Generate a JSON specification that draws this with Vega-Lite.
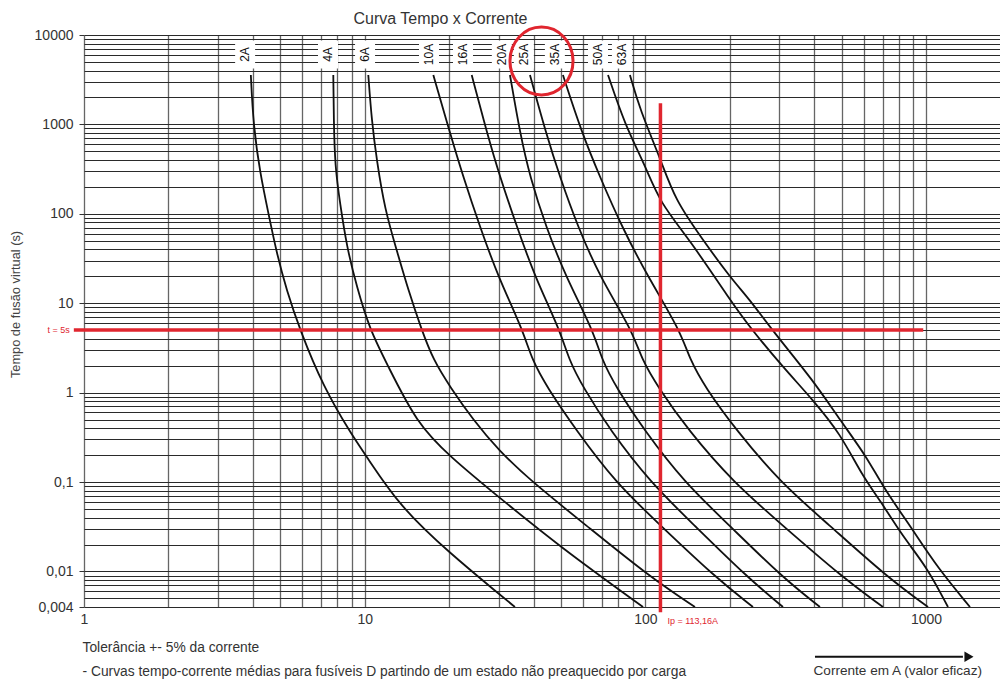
{
  "$schema": "https://vega.github.io/schema/vega-lite/v6.json",
  "width": 916,
  "height": 572,
  "autosize": {"type": "none"},
  "padding": {"left": 84, "top": 35, "right": 0, "bottom": 72},
  "background": "white",
  "config": {"view": {"stroke": null}, "font": "Liberation Sans"},
  "datasets": {
    "curves": [
      {"fuse": "2A", "I": 3.93, "t": 3570}, {"fuse": "2A", "I": 4.01, "t": 985}, {"fuse": "2A", "I": 4.24, "t": 284}, {"fuse": "2A", "I": 4.54, "t": 101}, {"fuse": "2A", "I": 4.86, "t": 36.2}, {"fuse": "2A", "I": 5.27, "t": 14.0}, {"fuse": "2A", "I": 5.88, "t": 5.01}, {"fuse": "2A", "I": 7.12, "t": 1.16}, {"fuse": "2A", "I": 8.99, "t": 0.336}, {"fuse": "2A", "I": 10.17, "t": 0.192}, {"fuse": "2A", "I": 13.36, "t": 0.0529}, {"fuse": "2A", "I": 20.14, "t": 0.0159}, {"fuse": "2A", "I": 29.92, "t": 0.00569}, {"fuse": "2A", "I": 34.3, "t": 0.004},
      {"fuse": "4A", "I": 7.73, "t": 3570}, {"fuse": "4A", "I": 7.76, "t": 1120}, {"fuse": "4A", "I": 7.84, "t": 336}, {"fuse": "4A", "I": 8.17, "t": 131}, {"fuse": "4A", "I": 8.63, "t": 42.9}, {"fuse": "4A", "I": 9.37, "t": 15.3}, {"fuse": "4A", "I": 10.44, "t": 5.01}, {"fuse": "4A", "I": 11.98, "t": 2.13}, {"fuse": "4A", "I": 15.32, "t": 0.453}, {"fuse": "4A", "I": 20.14, "t": 0.192}, {"fuse": "4A", "I": 29.92, "t": 0.0685}, {"fuse": "4A", "I": 49.6, "t": 0.0189}, {"fuse": "4A", "I": 98.1, "t": 0.004},
      {"fuse": "6A", "I": 10.30, "t": 3570}, {"fuse": "6A", "I": 10.59, "t": 1120}, {"fuse": "6A", "I": 11.03, "t": 400}, {"fuse": "6A", "I": 11.81, "t": 110}, {"fuse": "6A", "I": 13.0, "t": 39.4}, {"fuse": "6A", "I": 14.30, "t": 14.0}, {"fuse": "6A", "I": 15.96, "t": 5.01}, {"fuse": "6A", "I": 17.56, "t": 2.32}, {"fuse": "6A", "I": 20.14, "t": 1.16}, {"fuse": "6A", "I": 24.37, "t": 0.494}, {"fuse": "6A", "I": 29.92, "t": 0.228}, {"fuse": "6A", "I": 39.88, "t": 0.0975}, {"fuse": "6A", "I": 60.1, "t": 0.0348}, {"fuse": "6A", "I": 103.8, "t": 0.00866}, {"fuse": "6A", "I": 150.2, "t": 0.004},
      {"fuse": "10A", "I": 17.56, "t": 3570}, {"fuse": "10A", "I": 20.14, "t": 801}, {"fuse": "10A", "I": 22.45, "t": 258}, {"fuse": "10A", "I": 25.75, "t": 71.2}, {"fuse": "10A", "I": 29.92, "t": 19.6}, {"fuse": "10A", "I": 36.6, "t": 5.01}, {"fuse": "10A", "I": 39.45, "t": 2.32}, {"fuse": "10A", "I": 44.6, "t": 1.155}, {"fuse": "10A", "I": 56.6, "t": 0.382}, {"fuse": "10A", "I": 78.6, "t": 0.0975}, {"fuse": "10A", "I": 110.9, "t": 0.0348}, {"fuse": "10A", "I": 177.0, "t": 0.00866}, {"fuse": "10A", "I": 241.7, "t": 0.004},
      {"fuse": "16A", "I": 24.06, "t": 3570}, {"fuse": "16A", "I": 27.28, "t": 801}, {"fuse": "16A", "I": 30.34, "t": 258}, {"fuse": "16A", "I": 34.88, "t": 71.2}, {"fuse": "16A", "I": 40.44, "t": 19.6}, {"fuse": "16A", "I": 49.6, "t": 5.01}, {"fuse": "16A", "I": 53.44, "t": 2.32}, {"fuse": "16A", "I": 59.9, "t": 1.155}, {"fuse": "16A", "I": 74.8, "t": 0.382}, {"fuse": "16A", "I": 104.7, "t": 0.0975}, {"fuse": "16A", "I": 146.6, "t": 0.0348}, {"fuse": "16A", "I": 230.1, "t": 0.00866}, {"fuse": "16A", "I": 309.2, "t": 0.004},
      {"fuse": "20A", "I": 32.93, "t": 3570}, {"fuse": "20A", "I": 35.75, "t": 801}, {"fuse": "20A", "I": 38.8, "t": 258}, {"fuse": "20A", "I": 44.25, "t": 71.2}, {"fuse": "20A", "I": 52.14, "t": 19.6}, {"fuse": "20A", "I": 65.07, "t": 5.01}, {"fuse": "20A", "I": 70.0, "t": 2.32}, {"fuse": "20A", "I": 78.6, "t": 1.155}, {"fuse": "20A", "I": 98.9, "t": 0.382}, {"fuse": "20A", "I": 138.4, "t": 0.0975}, {"fuse": "20A", "I": 195.3, "t": 0.0348}, {"fuse": "20A", "I": 306.6, "t": 0.00866}, {"fuse": "20A", "I": 418.8, "t": 0.004},
      {"fuse": "25A", "I": 38.8, "t": 3570}, {"fuse": "25A", "I": 44.25, "t": 801}, {"fuse": "25A", "I": 49.6, "t": 258}, {"fuse": "25A", "I": 57.5, "t": 71.2}, {"fuse": "25A", "I": 68.9, "t": 19.6}, {"fuse": "25A", "I": 89.6, "t": 5.01}, {"fuse": "25A", "I": 97.2, "t": 2.32}, {"fuse": "25A", "I": 110.9, "t": 1.155}, {"fuse": "25A", "I": 141.8, "t": 0.382}, {"fuse": "25A", "I": 206.9, "t": 0.0975}, {"fuse": "25A", "I": 301.6, "t": 0.0348}, {"fuse": "25A", "I": 501.7, "t": 0.00866}, {"fuse": "25A", "I": 702.2, "t": 0.004},
      {"fuse": "35A", "I": 50.85, "t": 3570}, {"fuse": "35A", "I": 59.4, "t": 801}, {"fuse": "35A", "I": 68.9, "t": 258}, {"fuse": "35A", "I": 82.5, "t": 71.2}, {"fuse": "35A", "I": 102.2, "t": 19.6}, {"fuse": "35A", "I": 132.8, "t": 5.01}, {"fuse": "35A", "I": 144.2, "t": 2.32}, {"fuse": "35A", "I": 163.1, "t": 1.155}, {"fuse": "35A", "I": 210.3, "t": 0.382}, {"fuse": "35A", "I": 304.1, "t": 0.0975}, {"fuse": "35A", "I": 443.6, "t": 0.0348}, {"fuse": "35A", "I": 725.6, "t": 0.00866}, {"fuse": "35A", "I": 1016, "t": 0.004},
      {"fuse": "50A", "I": 73.6, "t": 3570}, {"fuse": "50A", "I": 84.6, "t": 985}, {"fuse": "50A", "I": 99.7, "t": 351}, {"fuse": "50A", "I": 112.7, "t": 132}, {"fuse": "50A", "I": 144.2, "t": 50.9}, {"fuse": "50A", "I": 200.1, "t": 10.9}, {"fuse": "50A", "I": 239.8, "t": 5.01}, {"fuse": "50A", "I": 309.2, "t": 1.93}, {"fuse": "50A", "I": 395.5, "t": 0.826}, {"fuse": "50A", "I": 493.5, "t": 0.353}, {"fuse": "50A", "I": 596.0, "t": 0.1138}, {"fuse": "50A", "I": 685.1, "t": 0.0629}, {"fuse": "50A", "I": 827.5, "t": 0.0243}, {"fuse": "50A", "I": 1007, "t": 0.0112}, {"fuse": "50A", "I": 1197, "t": 0.004},
      {"fuse": "63A", "I": 88.1, "t": 3570}, {"fuse": "63A", "I": 95.7, "t": 1449}, {"fuse": "63A", "I": 113.6, "t": 400}, {"fuse": "63A", "I": 127.5, "t": 143}, {"fuse": "63A", "I": 160.4, "t": 50.9}, {"fuse": "63A", "I": 200.1, "t": 19.6}, {"fuse": "63A", "I": 235.9, "t": 10.9}, {"fuse": "63A", "I": 282.5, "t": 5.01}, {"fuse": "63A", "I": 395.5, "t": 1.38}, {"fuse": "63A", "I": 493.5, "t": 0.494}, {"fuse": "63A", "I": 615.9, "t": 0.19}, {"fuse": "63A", "I": 702.2, "t": 0.0879}, {"fuse": "63A", "I": 898.3, "t": 0.029}, {"fuse": "63A", "I": 1094, "t": 0.0112}, {"fuse": "63A", "I": 1434, "t": 0.004}
    ],
    "labels": [
      {"fuse": "2A", "I": 3.75, "t": 6050}, {"fuse": "4A", "I": 7.40, "t": 6050}, {"fuse": "6A", "I": 10.03, "t": 6050}, {"fuse": "10A", "I": 16.95, "t": 6050}, {"fuse": "16A", "I": 22.4, "t": 6050}, {"fuse": "20A", "I": 30.8, "t": 6050}, {"fuse": "25A", "I": 36.9, "t": 6050}, {"fuse": "35A", "I": 47.6, "t": 6050}, {"fuse": "50A", "I": 67.8, "t": 6050}, {"fuse": "63A", "I": 82.5, "t": 6050}
    ],
    "hline": [{"I1": 0.92, "I2": 977, "t": 5, "label": "t = 5s"}],
    "vline": [{"I": 113.16, "t1": 1720, "t2": 0.0035, "tl": 0.004, "label": "Ip = 113,16A"}],
    "circle": [{"I": 42.65, "t": 5120}],
    "arrow": [{"I1": 402, "I2": 1353, "Ih": 1422, "t": 0.00111}]
  },
  "layer": [
    {
      "data": {"name": "curves"},
      "mark": {"type": "line", "color": "#111", "strokeWidth": 1.8, "interpolate": "basis", "clip": true},
      "encoding": {
        "x": {"field": "I", "type": "quantitative",
          "scale": {"type": "log", "domain": [1, 1834], "nice": false},
          "axis": {
            "values": [1,2,3,4,5,6,7,8,9,10,20,30,40,50,60,70,80,90,100,200,300,400,500,600,700,800,900,1000],
            "grid": true, "gridColor": "#666", "gridWidth": 1.3, "ticks": false, "domain": false,
            "labelExpr": "indexof([1,10,100,1000], datum.value) >= 0 ? '' + datum.value : ''",
            "labelFontSize": 14, "labelColor": "#333", "labelPadding": 5, "labelOverlap": false, "labelFlush": false, "labelBound": false,
            "title": ["Tolerância +- 5% da corrente", "- Curvas tempo-corrente médias para fusíveis D partindo de um estado não preaquecido por carga"],
            "titleFontSize": 13.8, "titleFontWeight": "normal", "titleColor": "#333", "titleAnchor": "start", "titleAlign": "left",
            "titleX": -2, "titleY": 44, "titleBaseline": "alphabetic", "titleLineHeight": 24
          }
        },
        "y": {"field": "t", "type": "quantitative",
          "scale": {"type": "log", "domain": [0.004, 10000], "nice": false},
          "axis": {
            "orient": "left",
            "values": [0.004,0.005,0.006,0.007,0.008,0.009,0.01,0.02,0.03,0.04,0.05,0.06,0.07,0.08,0.09,0.1,0.2,0.3,0.4,0.5,0.6,0.7,0.8,0.9,1,2,3,4,5,6,7,8,9,10,20,30,40,50,60,70,80,90,100,200,300,400,500,600,700,800,900,1000,2000,3000,4000,5000,6000,7000,8000,9000,10000],
            "grid": true, "gridColor": "#2a2a2a", "gridWidth": 1, "ticks": false, "labels": false, "domain": false, "title": null
          }
        },
        "detail": {"field": "fuse"}
      }
    },
    {
      "data": {"name": "labels"},
      "mark": {"type": "tick", "orient": "vertical", "color": "white", "opacity": 1, "size": 28, "thickness": 20, "clip": false},
      "encoding": {
        "x": {"field": "I", "type": "quantitative", "scale": {"type": "log", "domain": [1, 1834], "nice": false}, "axis": null},
        "y": {"field": "t", "type": "quantitative", "scale": {"type": "log", "domain": [0.004, 10000], "nice": false}, "axis": null}
      }
    },
    {
      "data": {"name": "labels"},
      "mark": {"type": "text", "angle": 270, "fontSize": 12, "color": "#111", "align": "center", "baseline": "middle"},
      "encoding": {
        "x": {"field": "I", "type": "quantitative", "scale": {"type": "log", "domain": [1, 1834], "nice": false},
          "axis": {"orient": "bottom", "grid": false, "ticks": false, "labels": false, "domain": false,
            "title": "Corrente em A (valor eficaz)", "titleFontSize": 13.6, "titleFontWeight": "normal", "titleColor": "#333",
            "titleAnchor": "start", "titleAlign": "left", "titleX": 729, "titleY": 67, "titleBaseline": "alphabetic"}},
        "y": {"field": "t", "type": "quantitative", "scale": {"type": "log", "domain": [0.004, 10000], "nice": false},
          "axis": {"orient": "left", "values": [0.004, 0.01, 0.1, 1, 10, 100, 1000, 10000], "grid": false,
            "ticks": true, "tickSize": 5, "tickColor": "#333", "domain": false,
            "labelExpr": "replace('' + datum.value, '.', ',')", "labelFontSize": 14, "labelColor": "#333", "labelPadding": 6,
            "labelOverlap": false, "labelFlush": false, "labelBound": false,
            "title": "Tempo de fusão virtual  (s)", "titleFontSize": 12.8, "titleFontWeight": "normal", "titleColor": "#444",
            "titleX": -69, "titleY": 269, "titleAlign": "center", "titleBaseline": "middle", "titleAngle": 270}},
        "text": {"field": "fuse"}
      }
    },
    {
      "data": {"name": "circle"},
      "mark": {"type": "point", "shape": "M0,-1A0.93,1,0,1,1,0,1A0.93,1,0,1,1,0,-1Z", "filled": false, "stroke": "#e0262f", "strokeWidth": 3, "size": 4600, "opacity": 1, "clip": false},
      "encoding": {
        "x": {"field": "I", "type": "quantitative", "scale": {"type": "log", "domain": [1, 1834], "nice": false},
          "axis": {"orient": "top", "grid": false, "ticks": false, "labels": false, "domain": false,
            "title": "Curva Tempo x Corrente", "titleFontSize": 16, "titleFontWeight": "normal", "titleColor": "#333",
            "titleAnchor": "start", "titleAlign": "center", "titleX": 356, "titleY": -12, "titleBaseline": "alphabetic"}},
        "y": {"field": "t", "type": "quantitative", "scale": {"type": "log", "domain": [0.004, 10000], "nice": false}, "axis": null}
      }
    },
    {
      "data": {"name": "hline"},
      "mark": {"type": "rule", "color": "#e0262f", "strokeWidth": 3.5, "clip": false},
      "encoding": {
        "x": {"field": "I1", "type": "quantitative", "scale": {"type": "log", "domain": [1, 1834], "nice": false}, "axis": null},
        "x2": {"field": "I2"},
        "y": {"field": "t", "type": "quantitative", "scale": {"type": "log", "domain": [0.004, 10000], "nice": false}, "axis": null}
      }
    },
    {
      "data": {"name": "hline"},
      "mark": {"type": "text", "color": "#e0262f", "fontSize": 9, "align": "right", "baseline": "middle", "dx": -4, "clip": false},
      "encoding": {
        "x": {"field": "I1", "type": "quantitative", "scale": {"type": "log", "domain": [1, 1834], "nice": false}, "axis": null},
        "y": {"field": "t", "type": "quantitative", "scale": {"type": "log", "domain": [0.004, 10000], "nice": false}, "axis": null},
        "text": {"field": "label"}
      }
    },
    {
      "data": {"name": "vline"},
      "mark": {"type": "rule", "color": "#e0262f", "strokeWidth": 3.5, "clip": false},
      "encoding": {
        "x": {"field": "I", "type": "quantitative", "scale": {"type": "log", "domain": [1, 1834], "nice": false}, "axis": null},
        "y": {"field": "t1", "type": "quantitative", "scale": {"type": "log", "domain": [0.004, 10000], "nice": false}, "axis": null},
        "y2": {"field": "t2"}
      }
    },
    {
      "data": {"name": "vline"},
      "mark": {"type": "text", "color": "#e0262f", "fontSize": 9, "align": "left", "baseline": "middle", "dx": 7, "dy": 14, "clip": false},
      "encoding": {
        "x": {"field": "I", "type": "quantitative", "scale": {"type": "log", "domain": [1, 1834], "nice": false}, "axis": null},
        "y": {"field": "tl", "type": "quantitative", "scale": {"type": "log", "domain": [0.004, 10000], "nice": false}, "axis": null},
        "text": {"field": "label"}
      }
    },
    {
      "data": {"name": "arrow"},
      "mark": {"type": "rule", "color": "#111", "strokeWidth": 2, "clip": false},
      "encoding": {
        "x": {"field": "I1", "type": "quantitative", "scale": {"type": "log", "domain": [1, 1834], "nice": false}, "axis": null},
        "x2": {"field": "I2"},
        "y": {"field": "t", "type": "quantitative", "scale": {"type": "log", "domain": [0.004, 10000], "nice": false}, "axis": null}
      }
    },
    {
      "data": {"name": "arrow"},
      "mark": {"type": "point", "shape": "triangle-right", "filled": true, "color": "#111", "size": 110, "opacity": 1, "clip": false},
      "encoding": {
        "x": {"field": "Ih", "type": "quantitative", "scale": {"type": "log", "domain": [1, 1834], "nice": false}, "axis": null},
        "y": {"field": "t", "type": "quantitative", "scale": {"type": "log", "domain": [0.004, 10000], "nice": false}, "axis": null}
      }
    }
  ],
  "resolve": {"axis": {"x": "independent", "y": "independent"}}
}
